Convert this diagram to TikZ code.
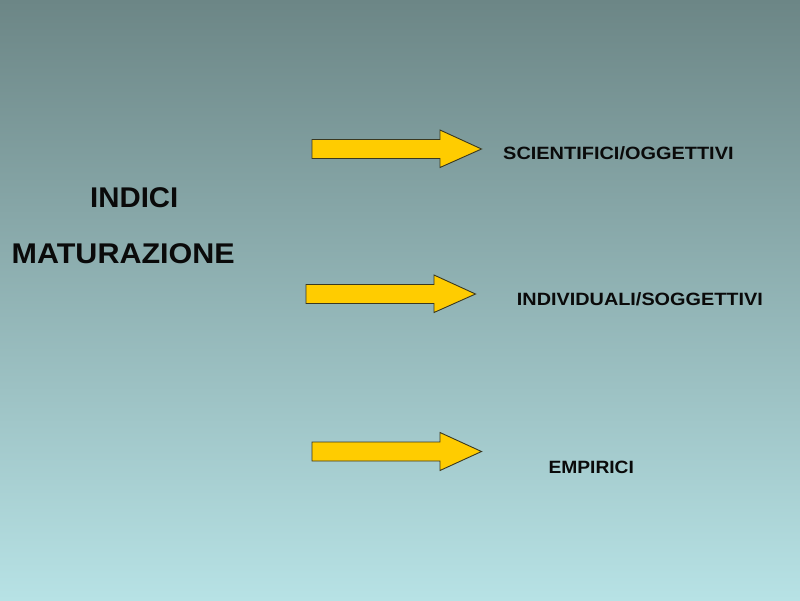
\documentclass[tikz,border=0pt]{standalone}
\usepackage{fontspec}
\setmainfont{Liberation Sans}
\definecolor{bgtop}{HTML}{6C8686}
\definecolor{bgbot}{HTML}{B7E2E5}
\definecolor{arrowfill}{HTML}{FFCC00}
\definecolor{arrowline}{HTML}{3A3820}
\definecolor{txt}{HTML}{0A0A0A}
\tikzset{
  blockarrow/.style={fill=arrowfill, draw=arrowline, line width=0.9pt, line join=miter},
  bigtext/.style={inner sep=0pt, anchor=base west, text=txt, font=\fontsize{28.5}{30}\selectfont\bfseries},
  smalltext/.style={inner sep=0pt, anchor=base west, text=txt, font=\fontsize{17.8}{20}\selectfont\bfseries}
}
\begin{document}
\begin{tikzpicture}[x=1pt,y=-1pt]
\useasboundingbox (0,0) rectangle (800,600);
\shade[top color=bgtop, bottom color=bgbot] (0,0) rectangle (800,600);
% arrows
\draw[blockarrow] (312,139.5) -- (440,139.5) -- (440,130) -- (481.5,149) -- (440,167.5) -- (440,158.5) -- (312,158.5) -- cycle;
\draw[blockarrow] (306,284.5) -- (434,284.5) -- (434,275) -- (475.5,294) -- (434,312.5) -- (434,303.5) -- (306,303.5) -- cycle;
\draw[blockarrow] (312,442) -- (440,442) -- (440,432.5) -- (481.5,451.5) -- (440,470.5) -- (440,461) -- (312,461) -- cycle;
% texts
\node[bigtext] (indici) at (90,207.3) {\scalebox{1.03}[1]{INDICI}};
\node[bigtext] (matur) at (11.5,263.5) {\scalebox{1.07}[1]{MATURAZIONE}};
\node[smalltext] (sci) at (503,159.3) {\scalebox{1.12}[1]{SCIENTIFICI/OGGETTIVI}};
\node[smalltext] (ind) at (516.7,305) {\scalebox{1.115}[1]{INDIVIDUALI/SOGGETTIVI}};
\node[smalltext] (emp) at (548.3,473.3) {\scalebox{1.08}[1]{EMPIRICI}};
\end{tikzpicture}
\end{document}
